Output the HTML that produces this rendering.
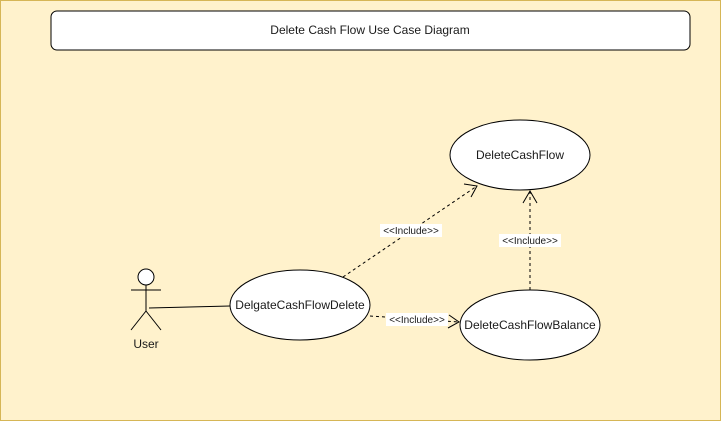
<!DOCTYPE html>
<html><head><meta charset="utf-8"><style>
html,body{margin:0;padding:0;width:721px;height:421px;overflow:hidden;background:#fff2cc}
svg{display:block}
text{font-family:"Liberation Sans",Arial,sans-serif;fill:#1a1a1a}
</style></head><body>
<svg width="721" height="421" viewBox="0 0 721 421" xmlns="http://www.w3.org/2000/svg">
<rect x="0.5" y="0.5" width="720" height="420" fill="#fff2cc" stroke="#d6b656"/>
<rect x="51" y="11" width="639" height="39" rx="6" fill="#fff" stroke="#000"/>
<text x="370" y="34" font-size="12" text-anchor="middle">Delete Cash Flow Use Case Diagram</text>

<ellipse cx="520" cy="155" rx="70" ry="35" fill="#fff" stroke="#000"/>
<text x="520" y="159" font-size="12" text-anchor="middle">DeleteCashFlow</text>

<ellipse cx="300" cy="305" rx="70" ry="35" fill="#fff" stroke="#000"/>
<text x="300" y="309" font-size="12" text-anchor="middle">DelgateCashFlowDelete</text>

<ellipse cx="530" cy="325" rx="70" ry="35" fill="#fff" stroke="#000"/>
<text x="530" y="329" font-size="12" text-anchor="middle">DeleteCashFlowBalance</text>

<!-- actor -->
<g stroke="#000" fill="none" stroke-width="1">
<circle cx="146" cy="277" r="8" fill="#fff"/>
<line x1="146" y1="285" x2="146" y2="311"/>
<line x1="131" y1="290" x2="161" y2="290"/>
<line x1="146" y1="311" x2="131" y2="330"/>
<line x1="146" y1="311" x2="161" y2="330"/>
<line x1="149" y1="308" x2="230" y2="306"/>
</g>
<text x="146" y="348" font-size="12" text-anchor="middle">User</text>

<g stroke="#000" fill="none" stroke-dasharray="3,3">
<line x1="343" y1="277" x2="477" y2="186"/>
<line x1="370" y1="316" x2="459" y2="322"/>
<line x1="530" y1="290" x2="530" y2="191"/>
</g>
<g stroke="#000" fill="none">
<polyline points="464,184 477,186 471,197"/>
<polyline points="449,315 459,322 448,328"/>
<polyline points="523,203 530,191 537,203"/>
</g>

<rect x="380" y="224" width="62" height="13" fill="#fff"/>
<text x="411" y="234" font-size="10" text-anchor="middle">&lt;&lt;Include&gt;&gt;</text>
<rect x="386" y="313" width="62" height="13" fill="#fff"/>
<text x="417" y="323" font-size="10" text-anchor="middle">&lt;&lt;Include&gt;&gt;</text>
<rect x="499" y="234" width="62" height="13" fill="#fff"/>
<text x="530" y="244" font-size="10" text-anchor="middle">&lt;&lt;Include&gt;&gt;</text>
</svg>
</body></html>
